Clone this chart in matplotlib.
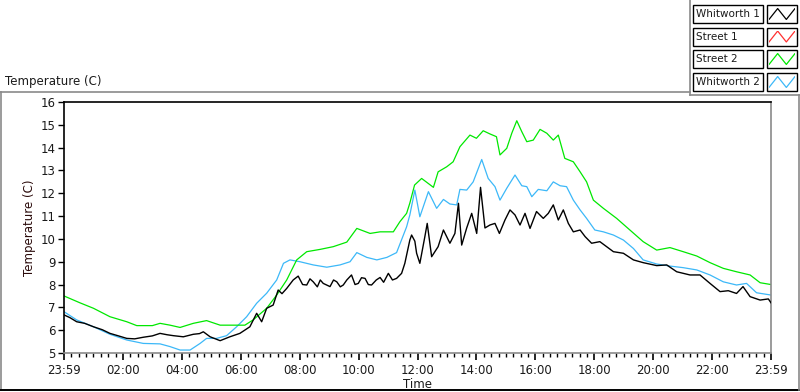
import matplotlib
matplotlib.use("Agg")
import matplotlib.pyplot as plt
from matplotlib.lines import Line2D
from matplotlib.patches import Rectangle
from matplotlib.ticker import MultipleLocator

plt.rcParams['font.family'] = ['DejaVu Sans']

series_names = ["Whitworth 1", "Street 1", "Street 2", "Whitworth 2"]
series_colors = ["#000000", "#ff3030", "#00e800", "#3cb8f8"]

y_ticks = [5, 6, 7, 8, 9, 10, 11, 12, 13, 14, 15, 16]
x_tick_hours = [0, 2, 4, 6, 8, 10, 12, 14, 16, 18, 20, 22, 24]
x_tick_labels = ["23:59", "02:00", "04:00", "06:00", "08:00", "10:00", "12:00",
                 "14:00", "16:00", "18:00", "20:00", "22:00", "23:59"]

# Whitworth 1 (hours after midnight, deg C)
w1_t = [0, 0.2, 0.43, 0.7, 1.0, 1.3, 1.56, 1.85, 2.13, 2.4, 2.69, 3.0, 3.26, 3.5, 3.71,
        4.05, 4.39, 4.6, 4.73, 4.96, 5.3, 5.63, 5.97, 6.31, 6.54, 6.71, 6.88, 7.1, 7.27,
        7.4, 7.56, 7.78, 7.95, 8.1, 8.24, 8.35, 8.46, 8.6, 8.7, 8.8, 9.03, 9.15, 9.26, 9.38,
        9.48, 9.6, 9.76, 9.88, 9.99, 10.1, 10.22, 10.33, 10.44, 10.6, 10.73, 10.85, 11.01,
        11.15, 11.29, 11.46, 11.57, 11.74, 11.8, 11.91, 11.97, 12.08,
        12.25, 12.33, 12.48, 12.7, 12.88, 13.1, 13.27, 13.39, 13.5, 13.67, 13.84, 14.01,
        14.14, 14.29, 14.46, 14.63, 14.78, 14.97, 15.14, 15.31, 15.48, 15.65, 15.82,
        16.04, 16.27, 16.44, 16.61, 16.78, 16.95, 17.12, 17.29, 17.52, 17.69, 17.91,
        18.19, 18.42, 18.65, 18.99, 19.33, 19.66, 20.12, 20.46, 20.8, 21.25, 21.59,
        21.93, 22.27, 22.55, 22.83, 23.05, 23.29, 23.63, 23.91, 24.0]
w1_v = [6.67, 6.55, 6.37, 6.3, 6.15, 6.02, 5.86, 5.75, 5.64, 5.62, 5.69, 5.75, 5.86, 5.8, 5.76,
        5.71, 5.82, 5.85, 5.93, 5.71, 5.54, 5.71, 5.86, 6.15, 6.74, 6.37, 6.96, 7.1, 7.76,
        7.6, 7.83, 8.2, 8.37, 8.0, 7.98, 8.25, 8.12, 7.9, 8.2, 8.05, 7.91, 8.2, 8.12, 7.9,
        7.98, 8.2, 8.42, 8.0, 8.05, 8.3, 8.27, 8.0, 7.98, 8.2, 8.31, 8.1, 8.49,
        8.2, 8.27, 8.49, 8.93, 9.95, 10.17, 9.9, 9.37, 8.93,
        10.1, 10.68, 9.22, 9.66, 10.39, 9.81, 10.24, 11.56, 9.73, 10.48, 11.12, 10.24,
        12.26, 10.48, 10.61, 10.68, 10.24, 10.83, 11.27, 11.05, 10.61, 11.12, 10.46,
        11.2, 10.9, 11.12, 11.49, 10.83, 11.27, 10.68, 10.31, 10.39, 10.1, 9.81,
        9.88, 9.66, 9.44, 9.37, 9.08, 8.96, 8.83, 8.86, 8.56, 8.42, 8.42,
        8.05, 7.69, 7.73, 7.61, 7.91, 7.47, 7.32, 7.37, 7.2]

# Street 1 (no data shown)
s1_t = []
s1_v = []

# Street 2
s2_t = [0, 0.54, 1.0, 1.56, 2.13, 2.47, 3.0, 3.26, 3.6, 3.94, 4.39, 4.84, 5.3, 5.75, 6.14,
        6.42, 6.88, 7.22, 7.56, 7.9, 8.24, 8.69, 9.14, 9.6, 9.94, 10.39, 10.73, 11.18,
        11.4, 11.63, 11.74, 11.9, 12.14, 12.54, 12.7, 12.99, 13.21, 13.44, 13.78, 14.0,
        14.23, 14.46, 14.68, 14.8, 15.03, 15.2, 15.37, 15.54, 15.71, 15.93, 16.16, 16.39,
        16.61, 16.78, 17.0, 17.29, 17.52, 17.74, 17.97, 18.31, 18.76, 19.21, 19.66,
        20.12, 20.57, 21.02, 21.48, 21.93, 22.38, 22.83, 23.29, 23.63, 24.0]
s2_v = [7.5, 7.2, 6.96, 6.59, 6.37, 6.2, 6.2, 6.3, 6.22, 6.12, 6.3, 6.42, 6.22, 6.22, 6.22,
        6.45, 6.96, 7.54, 8.2, 9.08, 9.44, 9.54, 9.66, 9.86, 10.46, 10.24, 10.31, 10.31,
        10.75, 11.12, 11.57, 12.36, 12.65, 12.26, 12.94, 13.16, 13.38, 14.04, 14.55, 14.41,
        14.74, 14.6, 14.48, 13.68, 13.97, 14.63, 15.18, 14.7, 14.26, 14.33, 14.8, 14.63,
        14.33, 14.55, 13.53, 13.38, 12.94, 12.5, 11.7, 11.34, 10.9, 10.39, 9.88,
        9.51, 9.62, 9.44, 9.25, 8.96, 8.71, 8.56, 8.42, 8.08, 8.0]

# Whitworth 2
w2_t = [0, 0.43, 1.0, 1.56, 2.13, 2.69, 3.26, 3.6, 3.94, 4.28, 4.62, 4.84, 5.18, 5.52, 5.86,
        6.2, 6.54, 6.88, 7.22, 7.45, 7.67, 8.01, 8.46, 8.92, 9.37, 9.71, 9.94, 10.28,
        10.62, 10.96, 11.29, 11.63, 11.74, 11.91, 12.08, 12.37, 12.65, 12.88, 13.1, 13.33,
        13.44, 13.67, 13.89, 14.18, 14.4, 14.63, 14.8, 15.03, 15.31, 15.54, 15.71, 15.88,
        16.1, 16.39, 16.61, 16.84, 17.06, 17.29, 17.52, 17.74, 18.02, 18.31, 18.65, 18.99,
        19.33, 19.66, 20.12, 20.57, 21.02, 21.48, 21.93, 22.38, 22.83, 23.17, 23.51, 24.0]
w2_v = [6.81, 6.45, 6.15, 5.82, 5.57, 5.42, 5.4, 5.28, 5.13, 5.13, 5.42, 5.64, 5.64, 5.76, 6.15,
        6.59, 7.18, 7.62, 8.2, 8.93, 9.08, 9.0, 8.86, 8.76, 8.86, 9.0, 9.4, 9.19,
        9.08, 9.19, 9.4, 10.53, 11.05, 12.14, 10.97, 12.07, 11.34, 11.73, 11.53, 11.49,
        12.17, 12.14, 12.5, 13.48, 12.65, 12.29, 11.7, 12.22, 12.8, 12.33, 12.29, 11.85,
        12.17, 12.11, 12.5, 12.33, 12.29, 11.7, 11.27, 10.9, 10.39, 10.31, 10.17, 9.95,
        9.58, 9.08, 8.9, 8.81, 8.74, 8.64, 8.42, 8.12, 7.98, 8.05, 7.64, 7.54]

W, H = 800, 392
fig = plt.figure(figsize=(W / 100, H / 100), dpi=100)
fig.patch.set_facecolor("white")

def fx(px):
    return px / W

def fy(py):
    return 1 - py / H

ax = fig.add_axes([fx(64), fy(353), fx(771) - fx(64), fy(102) - fy(353)])
ax.plot(w2_t, w2_v, color=series_colors[3], lw=0.9, zorder=2)
ax.plot(s2_t, s2_v, color=series_colors[2], lw=0.9, zorder=2)
if s1_t:
    ax.plot(s1_t, s1_v, color=series_colors[1], lw=0.9, zorder=2)
ax.plot(w1_t, w1_v, color=series_colors[0], lw=1.0, zorder=3)

ax.set_xlim(0, 24)
ax.set_ylim(5, 16)
ax.set_yticks(y_ticks)
ax.set_xticks(x_tick_hours)
ax.set_xticklabels(x_tick_labels)
ax.xaxis.set_minor_locator(MultipleLocator(0.25))

for s in ["left", "top"]:
    ax.spines[s].set_color("black")
    ax.spines[s].set_linewidth(1.2)
for s in ["right", "bottom"]:
    ax.spines[s].set_color("#8a8a8a")
    ax.spines[s].set_linewidth(1.2)

ax.tick_params(axis="y", which="major", length=4, width=1, color="black",
               labelsize=8.5, pad=2, labelcolor="#1a1a1a")
ax.tick_params(axis="x", which="major", length=5, width=1.2, color="black",
               labelsize=8.5, pad=3, labelcolor="#1a1a1a")
ax.tick_params(axis="x", which="minor", length=3, width=1, color="black")

ax.set_xlabel("Time", fontsize=8.5, labelpad=1, color="#1a1a1a")
ax.set_ylabel("Temperature (C)", fontsize=8.5, labelpad=3, color="#2a0a0a")

# Outer frame lines
fig.add_artist(Line2D([0, fx(690)], [fy(92), fy(92)], color="#8a8a8a", lw=1.2))
fig.add_artist(Line2D([fx(1), fx(1)], [fy(92), fy(390)], color="#8a8a8a", lw=1.2))
fig.add_artist(Line2D([0, 1], [fy(390), fy(390)], color="black", lw=1.4))
fig.add_artist(Line2D([fx(799), fx(799)], [fy(95), fy(390)], color="#8a8a8a", lw=1.2))
fig.add_artist(Line2D([fx(690), fx(690)], [fy(0), fy(95)], color="#8a8a8a", lw=1.2))
fig.add_artist(Line2D([fx(690), 1], [fy(95), fy(95)], color="#8a8a8a", lw=1.2))

fig.text(fx(5), fy(82), "Temperature (C)", fontsize=8.5, va="center", ha="left", color="#1a1a1a")

# Legend boxes
row_tops = [5, 27.5, 50, 73]
row_h = 18
for name, col, top in zip(series_names, series_colors, row_tops):
    fig.add_artist(Rectangle((fx(693), fy(top + row_h)), fx(763) - fx(693), fy(top) - fy(top + row_h),
                             fill=False, edgecolor="black", lw=1.0))
    fig.text(fx(695.5), fy(top + row_h / 2), name, fontsize=7.5, va="center", ha="left", color="#1a1a1a")
    fig.add_artist(Rectangle((fx(767), fy(top + row_h)), fx(797) - fx(767), fy(top) - fy(top + row_h),
                             fill=False, edgecolor="black", lw=1.0))
    iax = fig.add_axes([fx(769), fy(top + row_h - 3), fx(795) - fx(769), fy(top + 3) - fy(top + row_h - 3)])
    iax.plot([0, 1, 2, 3], [0, 1, 0, 1], color=col, lw=0.9)
    iax.set_xlim(0, 3)
    iax.set_ylim(-0.05, 1.05)
    iax.axis("off")

fig.savefig("out.png", dpi=100)
